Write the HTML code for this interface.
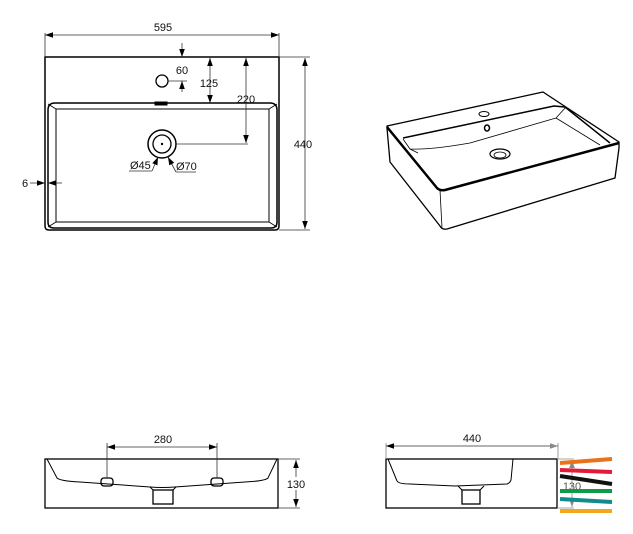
<!DOCTYPE html>
<html><head><meta charset="utf-8"><style>
html,body{margin:0;padding:0;background:#fff;}
svg{display:block;}
text{font-family:"Liberation Sans",sans-serif;font-size:11px;fill:#111;}
</style></head><body>
<svg width="633" height="534" viewBox="0 0 633 534" xmlns="http://www.w3.org/2000/svg">
<defs>
<marker id="a" viewBox="0 0 10 10" refX="10" refY="5" markerWidth="8" markerHeight="8" orient="auto-start-reverse" markerUnits="userSpaceOnUse"><path d="M0,1.5 L10,5 L0,8.5 z" fill="#000"/></marker>
<marker id="g" viewBox="0 0 10 10" refX="10" refY="5" markerWidth="8" markerHeight="8" orient="auto-start-reverse" markerUnits="userSpaceOnUse"><path d="M0,1.5 L10,5 L0,8.5 z" fill="#888"/></marker>
</defs>
<g fill="none" stroke="#000" stroke-width="1">
<path d="M45,57 H279 V226 Q279,230 275,230 H49 Q45,230 45,226 Z" stroke-width="1.5"/>
<path d="M48,110 Q48,103 55,103 H270 Q277,103 277,110 V222 Q277,228 271,228 H54 Q48,228 48,222 Z" stroke-width="1.5"/>
<path d="M56,109 H269 V222 H56 Z" stroke-width="1"/>
<path d="M48,104 L56,109 M277,104 L269,109 M48,227 L56,222 M277,227 L269,222" stroke-width="0.8"/>
<rect x="155" y="102" width="12" height="3" fill="#000"/>
<circle cx="162" cy="81" r="6" stroke-width="1.3"/>
<circle cx="162" cy="144" r="14" stroke-width="1.5"/>
<circle cx="162" cy="144" r="9" stroke-width="1.3"/>
<circle cx="162" cy="144" r="0.7" fill="#000"/>
</g>
<g fill="none" stroke="#333" stroke-width="0.8">
<path d="M45,33 V57 M279,33 V57 M279,57 H310 M279,230 H310"/>
<line x1="45" y1="35" x2="279" y2="35" marker-start="url(#a)" marker-end="url(#a)"/>
<line x1="182" y1="43" x2="182" y2="57" marker-end="url(#a)"/>
<line x1="182" y1="92" x2="182" y2="81" marker-end="url(#a)"/>
<path d="M168,81 H187"/>
<line x1="210" y1="58" x2="210" y2="103" marker-start="url(#a)" marker-end="url(#a)"/>
<line x1="246" y1="58" x2="246" y2="143" marker-start="url(#a)" marker-end="url(#a)"/>
<path d="M176,144 H248"/>
<line x1="305" y1="58" x2="305" y2="229" marker-start="url(#a)" marker-end="url(#a)"/>
<line x1="30" y1="183" x2="45" y2="183" marker-end="url(#a)"/>
<line x1="62" y1="183" x2="48" y2="183" marker-end="url(#a)"/>
<path d="M129,171 H152" />
<line x1="152" y1="171" x2="158" y2="157" marker-end="url(#a)"/>
<path d="M176,172 H196"/>
<line x1="176" y1="172" x2="168" y2="157" marker-end="url(#a)"/>
</g>
<text x="163" y="31" text-anchor="middle">595</text>
<text x="182" y="74" text-anchor="middle">60</text>
<text x="209" y="87" text-anchor="middle">125</text>
<text x="246" y="103" text-anchor="middle">220</text>
<text x="303" y="148" text-anchor="middle">440</text>
<text x="25" y="187" text-anchor="middle">6</text>
<text x="130" y="169">Ø45</text>
<text x="176" y="170">Ø70</text>

<g fill="none" stroke="#000" stroke-linejoin="round">
<path d="M387,126 L543,92 L619,142 L619,148 L615,178 L447,229 Q442,230 440,226 L390,162 L387,128 Z" stroke-width="1.3"/>
<path d="M387,127 L437,188 Q440,191 445,190 L619,143" stroke-width="2.5"/>
<path d="M440,190 L442,228" stroke-width="0.8"/>
<path d="M403,138 L554,106 L565,107 L610,143" stroke-width="1.5"/>
<path d="M403,139 L410,149 Q430,150 470,143 L556,118 L566,107" stroke-width="0.8"/>
<path d="M556,118 L600,145" stroke-width="0.8"/>
<path d="M410,149 L418,153" stroke-width="0.8"/>
<ellipse cx="500" cy="154" rx="10" ry="5" stroke-width="1.2"/>
<ellipse cx="500" cy="155" rx="6" ry="3" stroke-width="0.8"/>
<ellipse cx="484" cy="114" rx="5" ry="2.5" stroke-width="1"/>
<ellipse cx="487" cy="128" rx="2.5" ry="3" stroke-width="1.5"/>
</g>

<g fill="none" stroke="#000" stroke-width="1.3">
<rect x="45" y="459" width="233" height="49"/>
<path d="M47,459 L57,478 Q60,481 80,482 L150,487 Q162,488 175,487 L245,482 Q265,481 268,478 L277,459" stroke-width="1"/>
<path d="M150,487 L153,490 H173 L176,487" stroke-width="1"/>
<rect x="153" y="490" width="20" height="14"/>
<rect x="101" y="478" width="12" height="8" rx="3"/>
<rect x="211" y="478" width="12" height="8" rx="3"/>
</g>
<g fill="none" stroke="#333" stroke-width="0.8">
<path d="M107,443 V478 M217,443 V478 M278,459 H300 M278,508 H300"/>
<line x1="107" y1="447" x2="217" y2="447" marker-start="url(#a)" marker-end="url(#a)"/>
<line x1="296" y1="460" x2="296" y2="507" marker-start="url(#a)" marker-end="url(#a)"/>
</g>
<rect x="285" y="477" width="22" height="13" fill="#fff"/>
<text x="163" y="443" text-anchor="middle">280</text>
<text x="296" y="488" text-anchor="middle">130</text>

<g fill="none" stroke="#000" stroke-width="1.3">
<rect x="386" y="459" width="171" height="49"/>
<path d="M388,459 L397,481 Q399,484 410,484 L455,486 L507,484 Q510,483 511,480 L513,459" stroke-width="1"/>
<path d="M458,486 L462,490 H480 L484,486" stroke-width="1"/>
<rect x="462" y="490" width="18" height="14"/>
</g>
<g fill="none" stroke="#888" stroke-width="0.8">
<path d="M386,443 V459 M558,443 V459 M557,459 H574 M557,508 H574"/>
<line x1="386" y1="446" x2="558" y2="446" stroke="#333" marker-start="url(#a)" marker-end="url(#g)"/>
<line x1="572" y1="460" x2="572" y2="507" marker-start="url(#g)" marker-end="url(#g)"/>
</g>
<text x="472" y="442" text-anchor="middle">440</text>
<text x="572" y="490" text-anchor="middle" style="fill:#555">130</text>
<g stroke-width="4" fill="none">
<path d="M560,463 L612,459" stroke="#e8731a"/>
<path d="M560,470 L612,472" stroke="#e31b3b"/>
<path d="M560,476 L612,484" stroke="#111"/>
<path d="M560,491 L612,491" stroke="#0f9a48"/>
<path d="M560,499 L612,502" stroke="#128a8e"/>
<path d="M560,511 L612,511" stroke="#f0a81c"/>
</g>
</svg>
</body></html>
